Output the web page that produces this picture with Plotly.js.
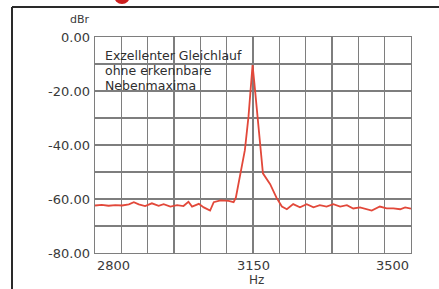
<!DOCTYPE html>
<html>
<head>
<meta charset="utf-8">
<script src="https://cdn.plot.ly/plotly-3.0.1.min.js"></script>
<style>html,body{margin:0;padding:0;background:#fff;}#chart{width:439px;height:289px;}</style>
</head>
<body>
<div id="chart"></div>
<script>
// Data
const freqHz = [2800,2815,2830,2845,2860,2875,2886,2897,2911,2926,2941,2952,2967,2982,2996,3007,3015,3030,3041,3055,3063,3078,3096,3107,3112,3121,3132,3140,3145,3149,3153,3160,3166,3172,3188,3202,3214,3225,3239,3254,3269,3284,3298,3313,3328,3343,3358,3372,3387,3402,3413,3431,3446,3461,3476,3487,3500];
const levelDbr = [-62.4,-62.2,-62.5,-62.3,-62.4,-62.0,-61.2,-62.0,-62.6,-61.6,-62.5,-61.9,-62.8,-62.3,-62.6,-61.0,-62.8,-61.8,-63.1,-64.3,-61.2,-60.5,-60.7,-61.2,-59.5,-51.7,-41.9,-29.5,-17,-10.4,-17,-29.5,-41.9,-50.5,-54.5,-59.5,-62.8,-63.8,-61.9,-63.1,-61.9,-63.1,-62.3,-62.8,-61.9,-62.8,-62.3,-63.5,-63.1,-63.8,-64.3,-62.8,-63.5,-63.5,-63.8,-63.1,-63.6];
const yTickVals = [0,-10,-20,-30,-40,-50,-60,-70,-80];
const yTickText = ['0.00','','-20.00','','-40.00','','-60.00','','-80.00'];
const xLabelVals = [2800,3150,3500];
const xLabelText = ['2800','3150','3500'];
const noteLines = ['Exzellenter Gleichlauf','ohne erkennbare','Nebenmaxima'];

const L = 95, R = 411, T = 37, B = 253;
const px = x => (x - L) / (R - L);
const py = y => (B - y) / (B - T);
const font = 'DejaVu Sans, Verdana, sans-serif';
const grid = '#7e7e7e';

const annotations = [];
xLabelVals.forEach((v, i) => {
  annotations.push({x: v, xref: 'x', y: py(265), yref: 'paper', text: xLabelText[i], showarrow: false,
    xanchor: i === 0 ? 'left' : (i === xLabelVals.length - 1 ? 'right' : 'center'), yanchor: 'middle',
    font: {family: font, size: 13, color: '#3a3a3a'}});
});
annotations.push({x: 3150, xref: 'x', y: py(280), yref: 'paper', text: 'Hz', showarrow: false,
  xanchor: 'center', xshift: 3, yanchor: 'middle', font: {family: font, size: 12, color: '#3a3a3a'}});
annotations.push({x: px(92), xref: 'paper', y: py(20), yref: 'paper', text: 'dBr', showarrow: false,
  xanchor: 'right', yanchor: 'middle', font: {family: font, size: 11, color: '#3a3a3a'}});
noteLines.forEach((t, i) => {
  annotations.push({x: px(103), xref: 'paper', y: py(55 + i * 15), yref: 'paper', text: t, showarrow: false,
    xanchor: 'left', yanchor: 'middle', font: {family: font, size: 12.5, color: '#2e2e2e'}});
});

const shapes = [
  {type: 'line', xref: 'paper', yref: 'paper', x0: px(12), x1: px(12), y0: py(7), y1: py(300), line: {color: '#2a2a2a', width: 2}},
  {type: 'line', xref: 'paper', yref: 'paper', x0: px(12), x1: px(445), y0: py(7), y1: py(7), line: {color: '#2a2a2a', width: 2}},
  {type: 'circle', xref: 'paper', yref: 'paper', x0: px(114), x1: px(130), y0: py(4), y1: py(-12), fillcolor: '#cc1f1f', line: {width: 0}}
];

Plotly.newPlot('chart', [{
  x: freqHz, y: levelDbr, type: 'scatter', mode: 'lines',
  line: {color: '#e2483a', width: 1.8}, hoverinfo: 'skip'
}], {
  width: 439, height: 289,
  margin: {l: L, r: 439 - R, t: T, b: 289 - B, pad: 0},
  paper_bgcolor: '#fff', plot_bgcolor: '#fff',
  showlegend: false,
  xaxis: {range: [2800, 3500], tick0: 2800, dtick: 700 / 12, showticklabels: false, ticks: '',
    showgrid: true, gridcolor: grid, gridwidth: 1.4, zeroline: false,
    showline: true, mirror: true, linecolor: grid, linewidth: 1.4, fixedrange: true},
  yaxis: {range: [-80, 0], tickmode: 'array', tickvals: yTickVals, ticktext: yTickText, ticks: '',
    tickfont: {family: font, size: 13, color: '#3a3a3a'}, ticklabelstandoff: 1,
    showgrid: true, gridcolor: grid, gridwidth: 1.4, zeroline: false,
    showline: true, mirror: true, linecolor: grid, linewidth: 1.4, fixedrange: true},
  annotations: annotations,
  shapes: shapes
}, {staticPlot: true, displayModeBar: false});
</script>
</body>
</html>
